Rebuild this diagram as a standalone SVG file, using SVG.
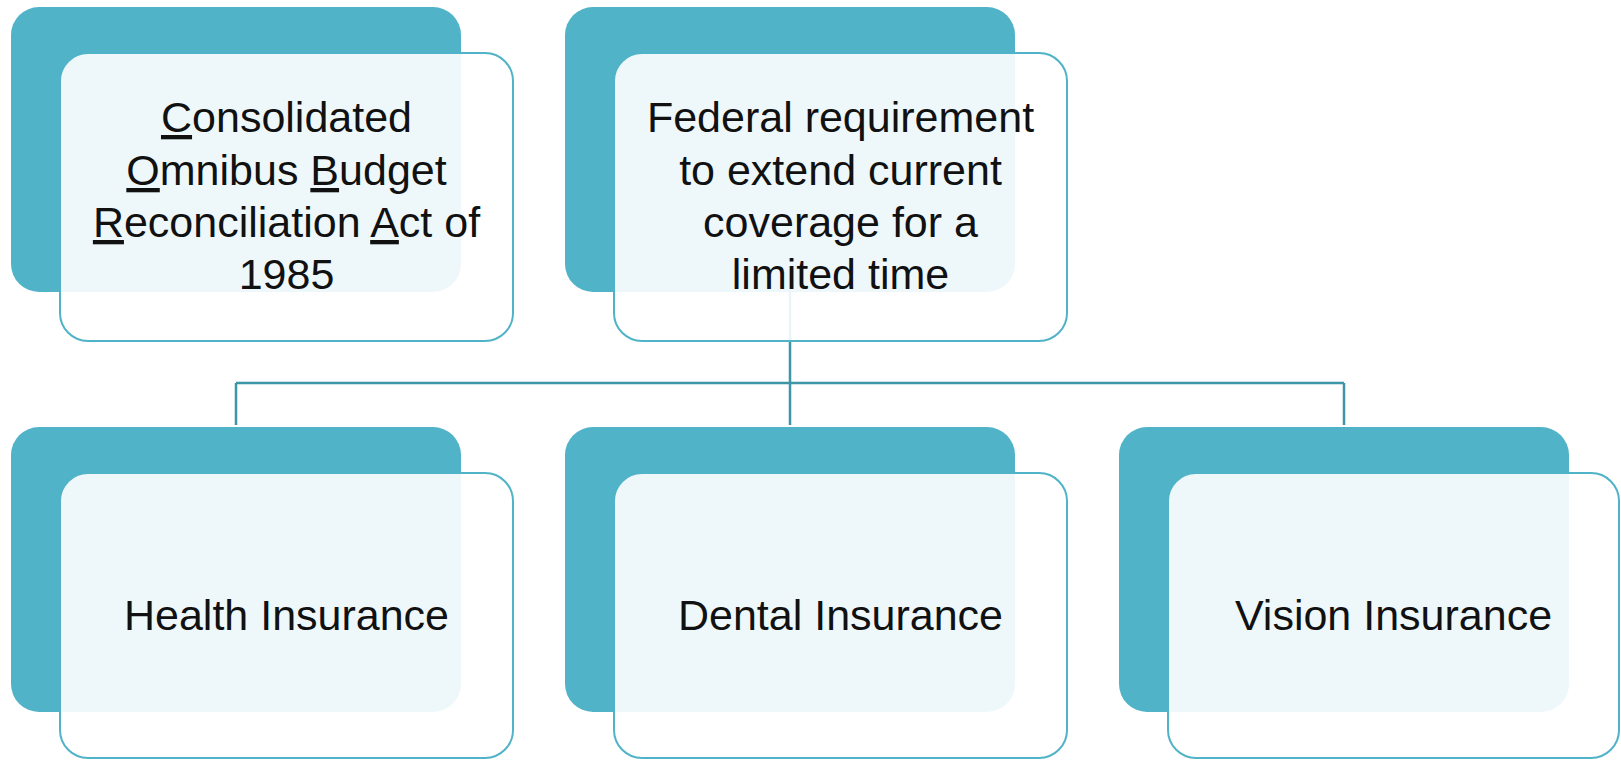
<svg xmlns="http://www.w3.org/2000/svg" width="1621" height="760" viewBox="0 0 1621 760">
<style>
.back{fill:#50b3c8;}
.front{fill:#ffffff;fill-opacity:0.9;stroke:#50b3c8;stroke-width:2;}
.conn{stroke:#3e95a5;stroke-width:2.5;fill:none;}
.lbl{font-family:"Liberation Sans",Arial,sans-serif;font-size:43px;fill:#111111;text-anchor:middle;}
.u{text-decoration:underline;}
</style>
<rect width="1621" height="760" fill="#ffffff"/>
<g id="connectors">
<path class="conn" d="M790,292 V383 M236,383 H1344 M236,383 V425 M790,383 V425 M1344,383 V425"/>
</g>
<g id="node-cobra">
<rect class="back" x="11" y="7" width="450" height="285" rx="28"/>
<rect class="front" x="60" y="53" width="453" height="288" rx="28"/>
<text class="lbl"><tspan x="286.5" y="132"><tspan class="u">C</tspan>onsolidated</tspan><tspan x="286.5" y="185"><tspan class="u">O</tspan>mnibus <tspan class="u">B</tspan>udget</tspan><tspan x="286.5" y="237"><tspan class="u">R</tspan>econciliation <tspan class="u">A</tspan>ct of</tspan><tspan x="286.5" y="289">1985</tspan></text>
</g>
<g id="node-federal">
<rect class="back" x="565" y="7" width="450" height="285" rx="28"/>
<rect class="front" x="614" y="53" width="453" height="288" rx="28"/>
<text class="lbl"><tspan x="840.5" y="132">Federal requirement</tspan><tspan x="840.5" y="185">to extend current</tspan><tspan x="840.5" y="237">coverage for a</tspan><tspan x="840.5" y="289">limited time</tspan></text>
</g>
<g id="node-health">
<rect class="back" x="11" y="427" width="450" height="285" rx="28"/>
<rect class="front" x="60" y="473" width="453" height="285" rx="28"/>
<text class="lbl" x="286.5" y="630">Health Insurance</text>
</g>
<g id="node-dental">
<rect class="back" x="565" y="427" width="450" height="285" rx="28"/>
<rect class="front" x="614" y="473" width="453" height="285" rx="28"/>
<text class="lbl" x="840.5" y="630">Dental Insurance</text>
</g>
<g id="node-vision">
<rect class="back" x="1119" y="427" width="450" height="285" rx="28"/>
<rect class="front" x="1168" y="473" width="451" height="285" rx="28"/>
<text class="lbl" x="1393.5" y="630">Vision Insurance</text>
</g>
</svg>
